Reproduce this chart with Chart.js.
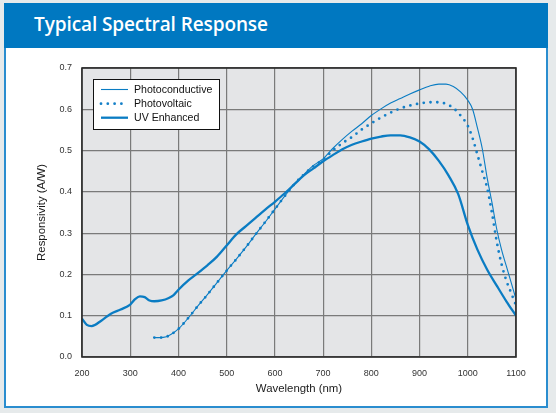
<!DOCTYPE html>
<html><head><meta charset="utf-8">
<script src="https://cdn.jsdelivr.net/npm/chart.js@4/dist/chart.umd.min.js"></script>
<style>
html,body{margin:0;padding:0;}
body{width:556px;height:413px;background:#e6eaeb;position:relative;overflow:hidden;font-family:"Liberation Sans",Arial,sans-serif;}
#header{position:absolute;left:4px;top:3px;width:544px;height:45px;background:#0078c1;}
#title{position:absolute;left:34px;top:15px;color:#fff;font:600 19px/19px "Open Sans",sans-serif;letter-spacing:-0.1px;white-space:nowrap;}
#panel{position:absolute;left:4px;top:48px;width:544px;height:360px;box-sizing:border-box;background:#fff;border:2px solid #2a8dcf;border-top:none;}
#wrap{position:absolute;left:0;top:0;width:556px;height:413px;}
</style></head>
<body>
<div id="header"></div>
<div id="title">Typical Spectral Response</div>
<div id="panel"></div>
<div id="wrap"><canvas id="c" width="556" height="413"></canvas></div>
<script>
// ---- data (wavelength in nm, responsivity in A/W) ----
const pcWavelength = [350,360,375,385,400,420,440,460,480,500,520,540,560,580,600,620,640,660,680,700,720,740,760,780,800,820,840,860,880,900,920,940,955,970,985,1000,1010,1020,1030,1040,1050,1060,1070,1080,1090,1100];
const pcValues     = [0.047,0.047,0.049,0.055,0.068,0.094,0.123,0.151,0.180,0.209,0.237,0.266,0.297,0.327,0.358,0.389,0.418,0.442,0.464,0.480,0.505,0.527,0.547,0.565,0.585,0.601,0.615,0.626,0.637,0.647,0.656,0.661,0.661,0.655,0.642,0.622,0.600,0.555,0.505,0.435,0.375,0.310,0.260,0.220,0.180,0.140];

const pvWavelength = [350,360,375,385,400,420,440,460,480,500,520,540,560,580,600,620,640,660,680,700,720,740,760,780,800,820,840,860,880,900,920,940,955,970,985,1000,1010,1020,1030,1040,1050,1060,1070,1080,1090,1100];
const pvValues     = [0.047,0.047,0.049,0.055,0.068,0.094,0.123,0.151,0.180,0.209,0.237,0.266,0.297,0.327,0.358,0.389,0.418,0.442,0.462,0.478,0.500,0.518,0.533,0.551,0.566,0.580,0.592,0.602,0.609,0.614,0.617,0.617,0.613,0.603,0.585,0.560,0.530,0.490,0.450,0.410,0.350,0.280,0.225,0.185,0.155,0.125];

const uvWavelength = [200,210,220,240,260,280,300,310,320,330,340,350,365,380,390,400,420,440,460,480,500,520,540,560,580,600,620,640,660,680,700,720,740,760,780,800,820,840,860,880,900,920,940,960,980,1000,1020,1040,1060,1080,1100];
const uvValues     = [0.093,0.078,0.075,0.088,0.105,0.115,0.127,0.140,0.147,0.145,0.137,0.135,0.137,0.143,0.150,0.163,0.185,0.203,0.222,0.243,0.270,0.297,0.317,0.337,0.357,0.376,0.396,0.418,0.440,0.457,0.474,0.489,0.503,0.514,0.522,0.529,0.534,0.537,0.537,0.532,0.522,0.503,0.475,0.440,0.395,0.320,0.260,0.212,0.173,0.135,0.100];

const seriesLabels = ['Photoconductive','Photovoltaic','UV Enhanced'];
const xTicks = [200,300,400,500,600,700,800,900,1000,1100];
const yTicks = [0.0,0.1,0.2,0.3,0.4,0.5,0.6,0.7];

const toXY = (xs, ys) => xs.map((x,i)=>({x:x, y:ys[i]}));
const BLUE = '#0a7cc3';

const bgPlugin = {
  id:'plotBg',
  beforeDraw(chart){
    const {ctx, chartArea:a} = chart;
    ctx.save(); ctx.fillStyle='#e4e5e7';
    ctx.fillRect(a.left,a.top,a.right-a.left,a.bottom-a.top); ctx.restore();
  },
  afterDraw(chart){
    const {ctx, chartArea:a} = chart;
    ctx.save(); ctx.strokeStyle='#2a2a2a'; ctx.lineWidth=1.6;
    ctx.strokeRect(a.left,a.top,a.right-a.left,a.bottom-a.top);
    // legend box
    const bx=a.left+11, by=a.top+11, bw=126, bh=50;
    ctx.fillStyle='#ffffff'; ctx.fillRect(bx,by,bw,bh);
    ctx.strokeStyle='#111'; ctx.lineWidth=1; ctx.strokeRect(bx+0.5,by+0.5,bw,bh);
    const ds = chart.data.datasets;
    const rows=[by+10.5, by+24.7, by+38.7];
    ds.forEach((d,i)=>{
      const y=rows[i];
      ctx.strokeStyle=d.borderColor; ctx.lineWidth=d.borderWidth;
      ctx.lineCap=d.borderCapStyle||'butt';
      ctx.setLineDash(d.borderDash||[]);
      ctx.beginPath(); ctx.moveTo(bx+8,y); ctx.lineTo(bx+35,y); ctx.stroke();
      ctx.setLineDash([]);
      ctx.fillStyle='#111'; ctx.font='10.6px "Liberation Sans", Arial, sans-serif';
      ctx.textBaseline='middle'; ctx.textAlign='left';
      ctx.fillText(d.label, bx+41, y+0.5);
    });
    ctx.restore();
  }
};

new Chart(document.getElementById('c'), {
  type:'line',
  data:{
    datasets:[
      {label:seriesLabels[0], data:toXY(pcWavelength,pcValues), borderColor:BLUE, borderWidth:1.1, pointRadius:0, cubicInterpolationMode:'monotone', fill:false},
      {label:seriesLabels[1], data:toXY(pvWavelength,pvValues), borderColor:'#1580c8', borderWidth:2.8, borderDash:[0,6.8], borderCapStyle:'round', pointRadius:0, cubicInterpolationMode:'monotone', fill:false},
      {label:seriesLabels[2], data:toXY(uvWavelength,uvValues), borderColor:BLUE, borderWidth:2.3, pointRadius:0, cubicInterpolationMode:'monotone', fill:false}
    ]
  },
  options:{
    responsive:false, animation:false, devicePixelRatio:1,
    layout:{padding:{left:0,top:68,right:40,bottom:0}},
    plugins:{legend:{display:false}, tooltip:{enabled:false}},
    scales:{
      x:{type:'linear', min:xTicks[0], max:xTicks[xTicks.length-1],
        afterBuildTicks(s){ s.ticks = xTicks.map(v=>({value:v})); },
        afterFit(s){ s.height=56; },
        ticks:{font:{size:9,family:'"Liberation Sans", Arial, sans-serif'}, color:'#333', padding:11.5, maxRotation:0, autoSkip:false, callback:v=>String(v)},
        grid:{color:'#7a7a7a', lineWidth:1.2, drawTicks:false},
        border:{display:false},
        title:{display:true, text:'Wavelength (nm)', color:'#1a1a1a', font:{size:11.4,family:'"Liberation Sans", Arial, sans-serif'}, padding:{top:0,bottom:17.4}}
      },
      y:{type:'linear', min:yTicks[0], max:yTicks[yTicks.length-1],
        afterBuildTicks(s){ s.ticks = yTicks.map(v=>({value:v})); },
        afterFit(s){ s.width=82; },
        ticks:{font:{size:9,family:'"Liberation Sans", Arial, sans-serif'}, color:'#333', padding:10, autoSkip:false, callback:v=>Number(v).toFixed(1)},
        grid:{color:'#7a7a7a', lineWidth:1.2, drawTicks:false},
        border:{display:false},
        title:{display:true, text:'Responsivity (A/W)', color:'#1a1a1a', font:{size:11.4,family:'"Liberation Sans", Arial, sans-serif'}, padding:{top:35.4,bottom:0}}
      }
    }
  },
  plugins:[bgPlugin]
});
</script>
</body></html>
